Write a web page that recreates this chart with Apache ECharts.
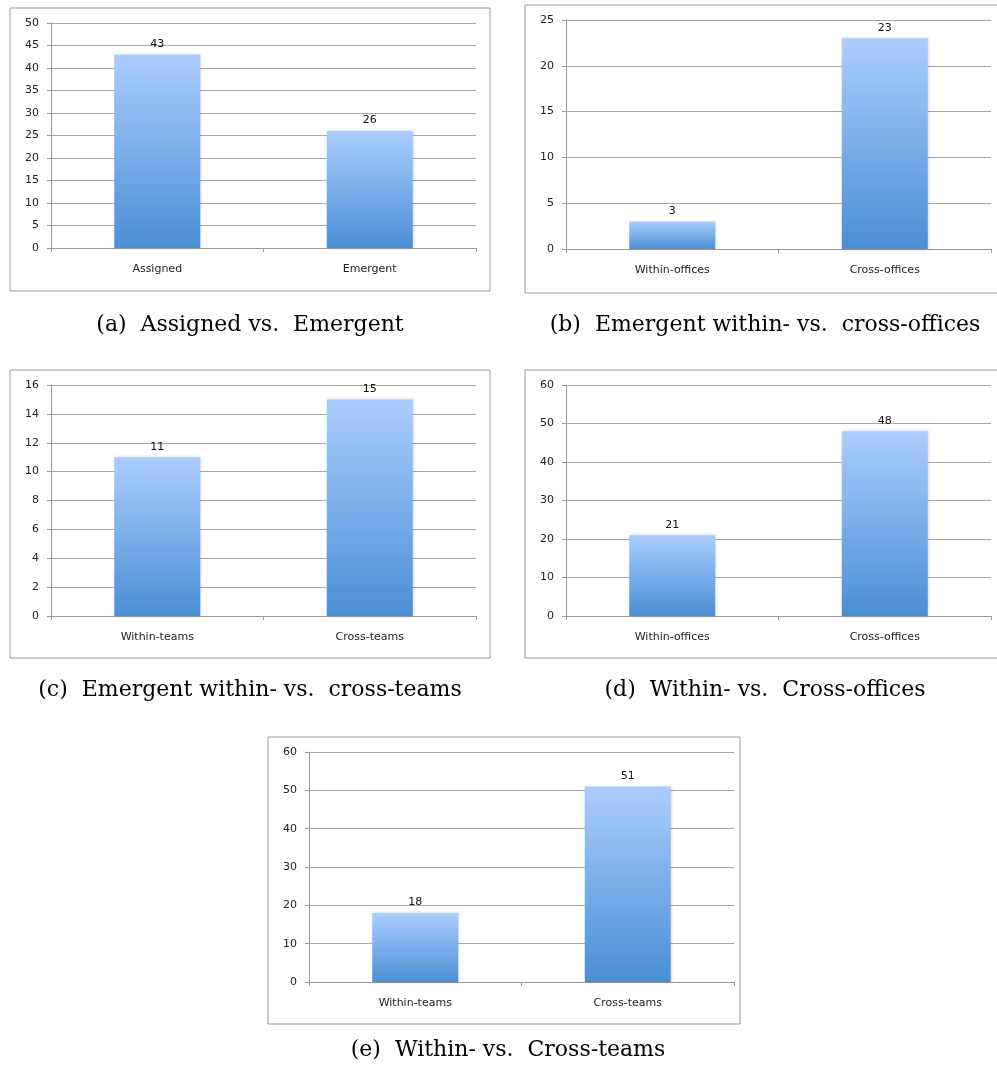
<!DOCTYPE html>
<html>
<head>
<meta charset="utf-8">
<script src="https://cdn.jsdelivr.net/npm/echarts@6/dist/echarts.min.js"></script>
<style>
  html, body { margin: 0; padding: 0; background: #fff; }
  #chart { width: 997px; height: 1069px; }
</style>
</head>
<body>
<div id="chart"></div>
<script>
// data
var catsA = ["Assigned", "Emergent"];
var valsA = [43, 26];
var catsB = ["Within-offices", "Cross-offices"];
var valsB = [3, 23];
var catsC = ["Within-teams", "Cross-teams"];
var valsC = [11, 15];
var catsD = ["Within-offices", "Cross-offices"];
var valsD = [21, 48];
var catsE = ["Within-teams", "Cross-teams"];
var valsE = [18, 51];
var yMax = [50, 25, 16, 60, 60];
var yStep = [5, 5, 2, 10, 10];
var captions = [
  "(a)  Assigned vs.  Emergent",
  "(b)  Emergent within- vs.  cross-offices",
  "(c)  Emergent within- vs.  cross-teams",
  "(d)  Within- vs.  Cross-offices",
  "(e)  Within- vs.  Cross-teams"
];

var cats = [catsA, catsB, catsC, catsD, catsE];
var vals = [valsA, valsB, valsC, valsD, valsE];

// panel layout (pixels)
var grids = [
  { left: 51, top: 23, width: 425, height: 225 },
  { left: 566, top: 20, width: 425, height: 229 },
  { left: 51, top: 385, width: 425, height: 231 },
  { left: 566, top: 385, width: 425, height: 231 },
  { left: 309, top: 752, width: 425, height: 230 }
];
var frames = [
  [10, 8, 480, 283],
  [525, 5, 480, 288],
  [10, 370, 480, 288],
  [525, 370, 480, 288],
  [268, 737, 472, 287]
];
var capPos = [[250, 325], [765, 325], [250, 690], [765, 690], [508, 1050]];

var font = "DejaVu Sans";
var barColor = {
  type: "linear", x: 0, y: 0, x2: 0, y2: 1,
  colorStops: [
    { offset: 0, color: "#abcdfd" },
    { offset: 1, color: "#4a8fd6" }
  ]
};

var xAxes = [], yAxes = [], series = [], graphics = [];
for (var i = 0; i < 5; i++) {
  xAxes.push({
    type: "category",
    gridIndex: i,
    data: cats[i],
    boundaryGap: true,
    axisLine: { lineStyle: { color: "#999", width: 1 } },
    axisTick: { show: true, length: 4, lineStyle: { color: "#999" } },
    axisLabel: { color: "#222", fontSize: 11, fontFamily: font, margin: 16 },
    splitLine: { show: false }
  });
  yAxes.push({
    type: "value",
    gridIndex: i,
    min: 0,
    max: yMax[i],
    interval: yStep[i],
    axisLine: { show: true, lineStyle: { color: "#999", width: 1 } },
    axisTick: { show: true, length: 4, lineStyle: { color: "#999" } },
    axisLabel: { color: "#222", fontSize: 11, fontFamily: font, margin: 12 },
    splitLine: { show: true, lineStyle: { color: "#a8a8a8", width: 1 } }
  });
  series.push({
    type: "bar",
    xAxisIndex: i,
    yAxisIndex: i,
    data: vals[i],
    barWidth: 86,
    itemStyle: {
      color: barColor,
      shadowColor: "rgba(0,0,0,0.18)",
      shadowBlur: 3,
      shadowOffsetX: 1
    },
    label: {
      show: true,
      position: "top",
      distance: 5,
      color: "#111",
      fontSize: 11,
      fontFamily: font
    }
  });
  graphics.push({
    type: "rect",
    shape: { x: frames[i][0], y: frames[i][1], width: frames[i][2], height: frames[i][3] },
    style: { fill: "none", stroke: "#999", lineWidth: 1 },
    z: -1
  });
  graphics.push({
    type: "text",
    x: capPos[i][0],
    y: capPos[i][1],
    style: {
      text: captions[i],
      fill: "#000",
      font: "22px 'DejaVu Serif'",
      textAlign: "center",
      textVerticalAlign: "middle"
    }
  });
}

var myChart = echarts.init(document.getElementById("chart"));
myChart.setOption({
  backgroundColor: "#fff",
  animation: false,
  grid: grids,
  xAxis: xAxes,
  yAxis: yAxes,
  series: series,
  graphic: graphics
});
</script>
</body>
</html>
